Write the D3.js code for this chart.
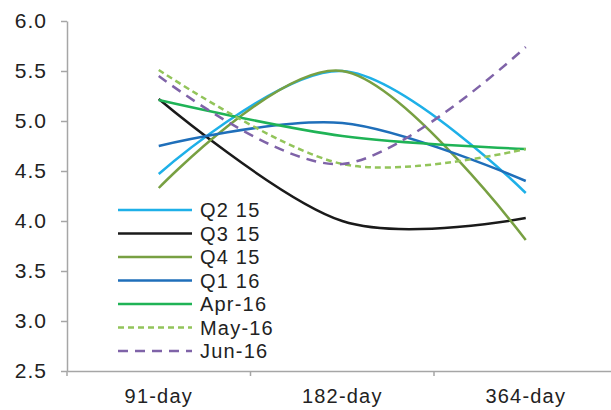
<!DOCTYPE html>
<html>
<head>
<meta charset="utf-8">
<script src="https://cdn.jsdelivr.net/npm/d3@7"></script>
<style>
  html, body { margin: 0; padding: 0; background: #fff; }
  svg { display: block; }
  text { font-family: "Liberation Sans", Arial, sans-serif; fill: #222; }
</style>
</head>
<body>
<svg id="chart" width="611" height="410"></svg>
<script>
const categories = ["91-day", "182-day", "364-day"];
const seriesNames = ["Q2 15", "Q3 15", "Q4 15", "Q1 16", "Apr-16", "May-16", "Jun-16"];
const q2_15 = [4.47, 5.50, 4.28];
const q3_15 = [5.22, 4.00, 4.03];
const q4_15 = [4.33, 5.50, 3.81];
const q1_16 = [4.75, 4.98, 4.40];
const apr_16 = [5.21, 4.85, 4.72];
const may_16 = [5.51, 4.57, 4.72];
const jun_16 = [5.45, 4.57, 5.74];
const yTicks = [2.5, 3.0, 3.5, 4.0, 4.5, 5.0, 5.5, 6.0];

const seriesValues = [q2_15, q3_15, q4_15, q1_16, apr_16, may_16, jun_16];
const colors = ["#1eb0e8", "#1a1a1a", "#78a042", "#1f6fba", "#1fb356", "#92c45a", "#7f63a8"];
const dashes = [null, null, null, null, null, "6,4", "10,7"];

const svg = d3.select("#chart");
const mLeft = 67, mRight = 617.5, mTop = 21, mBottom = 371;
const fontFam = "'Liberation Sans', Arial, sans-serif";

const x = d3.scaleBand().domain(categories).range([mLeft, mRight]).paddingInner(0).paddingOuter(0);
const y = d3.scaleLinear().domain([2.5, 6.0]).range([mBottom, mTop]);

// Y axis
const yAxis = svg.append("g")
  .attr("transform", `translate(${mLeft},0)`)
  .call(d3.axisLeft(y).tickValues(yTicks).tickFormat(d3.format(".1f")).tickSize(6).tickPadding(14).tickSizeOuter(0));
yAxis.select(".domain").attr("stroke", "#a6a6a6").attr("stroke-width", 1.5);
yAxis.selectAll(".tick line").attr("stroke", "#a6a6a6").attr("stroke-width", 1.5);
yAxis.selectAll(".tick text").style("font-size", "21px").style("letter-spacing", "1px").attr("fill", "#222")
  .style("font-family", fontFam);

// X axis
const xAxis = svg.append("g")
  .attr("transform", `translate(0,${mBottom})`)
  .call(d3.axisBottom(x).tickSize(0).tickPadding(18).tickSizeOuter(0));
xAxis.select(".domain").attr("stroke", "#a6a6a6").attr("stroke-width", 1.5);
xAxis.selectAll(".tick text").style("font-size", "20px").style("letter-spacing", "1.2px").attr("fill", "#222")
  .style("font-family", fontFam);
// boundary ticks between categories
xAxis.selectAll("line.bound")
  .data(categories)
  .enter().append("line")
  .attr("class", "bound")
  .attr("x1", d => x(d)).attr("x2", d => x(d))
  .attr("y1", 0).attr("y2", 5)
  .attr("stroke", "#a6a6a6").attr("stroke-width", 1.5);

// Lines
const line = d3.line()
  .x((d, i) => x(categories[i]) + x.bandwidth() / 2)
  .y(d => y(d))
  .curve(d3.curveCardinal.tension(0));

svg.append("g").selectAll("path")
  .data(seriesValues)
  .enter().append("path")
  .attr("d", d => line(d))
  .attr("fill", "none")
  .attr("stroke", (d, i) => colors[i])
  .attr("stroke-width", 2.5)
  .attr("stroke-dasharray", (d, i) => dashes[i]);

// Legend
const legend = svg.append("g");
const lg = legend.selectAll("g")
  .data(seriesNames)
  .enter().append("g")
  .attr("transform", (d, i) => `translate(118,${210 + i * 23.5})`);
lg.append("line")
  .attr("x1", 0).attr("x2", 74).attr("y1", 0).attr("y2", 0)
  .attr("stroke", (d, i) => colors[i])
  .attr("stroke-width", 2.5)
  .attr("stroke-dasharray", (d, i) => dashes[i]);
lg.append("text")
  .attr("x", 82).attr("y", 0).attr("dy", "0.35em")
  .style("font-size", "20px")
  .style("letter-spacing", "1.2px")
  .style("font-family", fontFam)
  .text(d => d);
</script>
</body>
</html>
